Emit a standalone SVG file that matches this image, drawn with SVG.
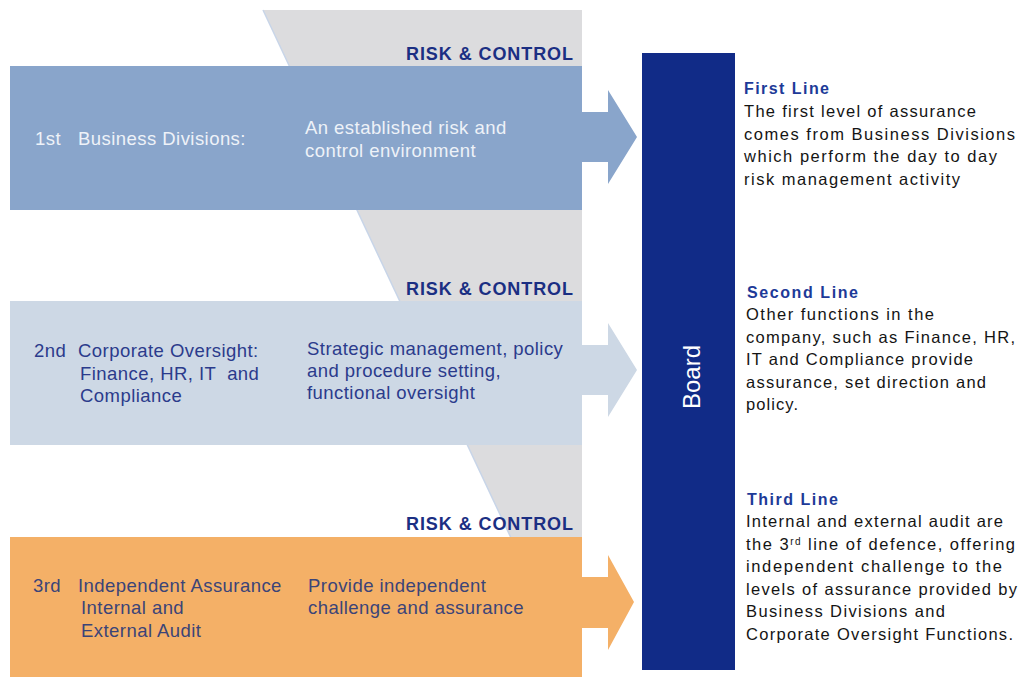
<svg xmlns="http://www.w3.org/2000/svg" width="1019" height="677" viewBox="0 0 1019 677">
  <style>
    .band-1 { fill: #89a5cb; }
    .band-2 { fill: #cdd8e5; }
    .band-3 { fill: #f4b067; }
    .lbl { font-family: "Liberation Sans", Arial, sans-serif; font-size: 18.5px; letter-spacing: 0.45px; }
    .lbl-1 { fill: #eef2f8; }
    .lbl-2 { fill: #2b3b8c; }
    .lbl-3 { fill: #3b4478; }
    .rc { font-family: "Liberation Sans", Arial, sans-serif; font-size: 18px; font-weight: bold; fill: #1b2f83; }
    .head { font-family: "Liberation Sans", Arial, sans-serif; font-size: 16px; font-weight: bold; fill: #1d3a98; }
    .body { font-family: "Liberation Sans", Arial, sans-serif; font-size: 16.5px; fill: #141414; }
    .board-lbl { font-family: "Liberation Sans", Arial, sans-serif; font-size: 24px; fill: #ffffff; }
  </style>

  <rect width="1019" height="677" fill="#ffffff"/>

  <!-- grey risk & control backdrop running behind all three bands -->
  <g id="risk-control-backdrop">
    <polygon points="263,10 582,10 582,540 512,540" fill="#dcdcde"/>
    <line x1="263" y1="10" x2="512" y2="540" stroke="#c8d5e8" stroke-width="1.5"/>
  </g>

  <!-- arrows from each line of defence into the board -->
  <g id="connectors">
    <polygon class="band-1" points="580,112 608,112 608,90 637,137 608,184 608,162 580,162"/>
    <polygon class="band-2" points="580,345 608,345 608,323 637,370 608,417 608,395 580,395"/>
    <polygon class="band-3" points="580,577 608,577 608,555 634,602 608,650 608,628 580,628"/>
  </g>

  <g id="line-1">
    <text class="rc" x="406" y="60" textLength="167" lengthAdjust="spacing">RISK &amp; CONTROL</text>
    <rect class="band-1" x="10" y="66" width="572" height="144"/>
    <text class="lbl lbl-1" x="35" y="145">1st</text>
    <text class="lbl lbl-1" x="78" y="145">Business Divisions:</text>
    <text class="lbl lbl-1" x="305" y="134">An established risk and</text>
    <text class="lbl lbl-1" x="305" y="157">control environment</text>
  </g>

  <g id="line-2">
    <text class="rc" x="406" y="295" textLength="167" lengthAdjust="spacing">RISK &amp; CONTROL</text>
    <rect class="band-2" x="10" y="301" width="572" height="144"/>
    <text class="lbl lbl-2" x="34" y="357">2nd</text>
    <text class="lbl lbl-2" x="78" y="357">Corporate Oversight:</text>
    <text class="lbl lbl-2" x="80" y="380" xml:space="preserve">Finance, HR, IT  and</text>
    <text class="lbl lbl-2" x="80" y="402">Compliance</text>
    <text class="lbl lbl-2" x="307" y="355">Strategic management, policy</text>
    <text class="lbl lbl-2" x="307" y="377">and procedure setting,</text>
    <text class="lbl lbl-2" x="307" y="399">functional oversight</text>
  </g>

  <g id="line-3">
    <text class="rc" x="406" y="530" textLength="167" lengthAdjust="spacing">RISK &amp; CONTROL</text>
    <rect class="band-3" x="10" y="537" width="572" height="140"/>
    <text class="lbl lbl-3" x="33" y="592">3rd</text>
    <text class="lbl lbl-3" x="78" y="592">Independent Assurance</text>
    <text class="lbl lbl-3" x="81" y="614">Internal and</text>
    <text class="lbl lbl-3" x="81" y="637">External Audit</text>
    <text class="lbl lbl-3" x="308" y="592">Provide independent</text>
    <text class="lbl lbl-3" x="308" y="614">challenge and assurance</text>
  </g>

  <g id="board">
    <rect x="642" y="53" width="93" height="617" fill="#112b87"/>
    <text class="board-lbl" text-anchor="middle" transform="translate(700,377) rotate(-90)">Board</text>
  </g>

  <g id="first-line-note">
    <text class="head" x="744" y="94" textLength="85" lengthAdjust="spacing">First Line</text>
    <text class="body" x="744" y="117" textLength="232" lengthAdjust="spacing">The first level of assurance</text>
    <text class="body" x="744" y="140" textLength="271" lengthAdjust="spacing">comes from Business Divisions</text>
    <text class="body" x="744" y="162" textLength="253" lengthAdjust="spacing">which perform the day to day</text>
    <text class="body" x="744" y="185" textLength="216" lengthAdjust="spacing">risk management activity</text>
  </g>

  <g id="second-line-note">
    <text class="head" x="747" y="298" textLength="111" lengthAdjust="spacing">Second Line</text>
    <text class="body" x="746" y="320" textLength="188" lengthAdjust="spacing">Other functions in the</text>
    <text class="body" x="746" y="343" textLength="269" lengthAdjust="spacing">company, such as Finance, HR,</text>
    <text class="body" x="746" y="365" textLength="227" lengthAdjust="spacing">IT and Compliance provide</text>
    <text class="body" x="746" y="388" textLength="240" lengthAdjust="spacing">assurance, set direction and</text>
    <text class="body" x="746" y="410" textLength="52" lengthAdjust="spacing">policy.</text>
  </g>

  <g id="third-line-note">
    <text class="head" x="747" y="505" textLength="91" lengthAdjust="spacing">Third Line</text>
    <text class="body" x="746" y="527" textLength="257" lengthAdjust="spacing">Internal and external audit are</text>
    <text class="body" x="746" y="550" textLength="269" lengthAdjust="spacing">the 3<tspan font-size="10" baseline-shift="super">rd</tspan> line of defence, offering</text>
    <text class="body" x="746" y="572" textLength="256" lengthAdjust="spacing">independent challenge to the</text>
    <text class="body" x="746" y="595" textLength="271" lengthAdjust="spacing">levels of assurance provided by</text>
    <text class="body" x="746" y="617" textLength="199" lengthAdjust="spacing">Business Divisions and</text>
    <text class="body" x="746" y="640" textLength="267" lengthAdjust="spacing">Corporate Oversight Functions.</text>
  </g>
</svg>
